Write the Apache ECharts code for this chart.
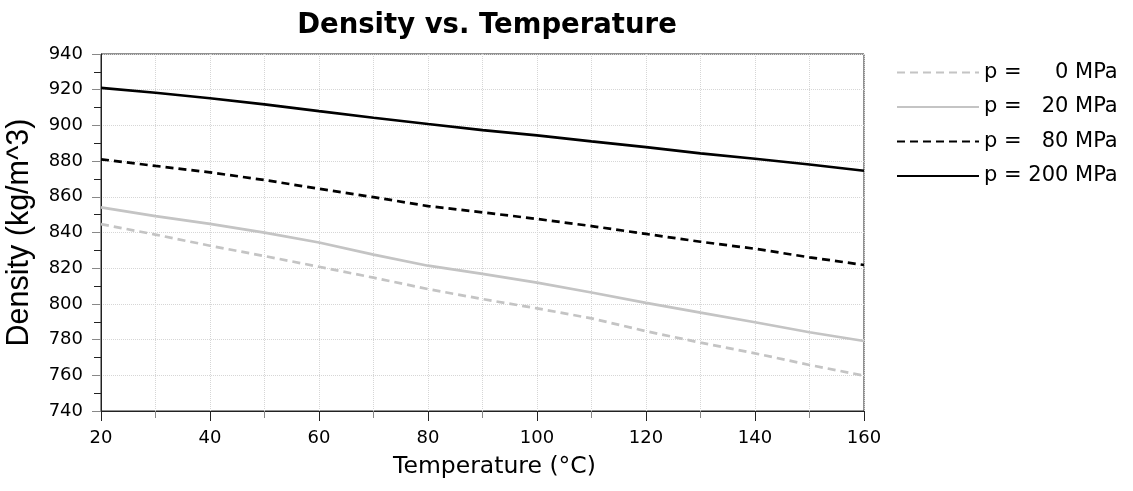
<!DOCTYPE html>
<html>
<head>
<meta charset="utf-8">
<title>Density vs. Temperature</title>
<script src="https://cdn.jsdelivr.net/npm/echarts@6/dist/echarts.min.js"></script>
<style>
  html, body { margin: 0; padding: 0; background: #fff; }
  #chart { width: 1133px; height: 491px; }
</style>
</head>
<body>
<div id="chart"></div>
<script>
// temperature (°C)
const temps = [20, 30, 40, 50, 60, 70, 80, 90, 100, 110, 120, 130, 140, 150, 160]
// density (kg/m^3) for each pressure
const p0 = [844.7, 838.8, 832.6, 826.8, 820.8, 814.7, 808.3, 802.7, 797.5, 791.9, 784.7, 778.3, 772.3, 765.8, 759.8]
const p20 = [854.1, 849.2, 844.8, 839.9, 834.4, 827.6, 821.4, 816.8, 811.9, 806.4, 800.6, 795.1, 789.7, 784.1, 779.2]
const p80 = [881.0, 877.3, 873.7, 869.4, 864.5, 859.8, 854.8, 851.3, 847.6, 843.6, 839.2, 834.8, 830.9, 826.1, 821.8]
const p200 = [921.0, 918.3, 915.2, 911.8, 908.0, 904.3, 900.8, 897.4, 894.4, 891.0, 887.8, 884.3, 881.3, 878.1, 874.6]
// digits right aligned: one digit = two spaces in DejaVu Sans
const seriesNames = ['p =     0 MPa', 'p =   20 MPa', 'p =   80 MPa', 'p = 200 MPa']

const font = 'DejaVu Sans, sans-serif'
const pair = arr => temps.map((t, i) => [t, arr[i]])

const line = (name, data, color, type) => ({
  type: 'line',
  name,
  data: pair(data),
  symbol: 'none',
  silent: true,
  lineStyle: { color, width: 2.7, type },
  itemStyle: { color }
})

const option = {
  animation: false,
  title: {
    text: 'Density vs. Temperature',
    left: 482,
    textAlign: 'center',
    top: 7,
    textStyle: { fontFamily: font, fontSize: 27.5, fontWeight: 'bold', color: '#000' }
  },
  legend: {
    orient: 'vertical',
    left: 891,
    top: 55,
    itemWidth: 82,
    itemHeight: 25,
    itemGap: 9.5,
    itemStyle: { opacity: 0 },
    textStyle: { fontFamily: font, fontSize: 21, lineHeight: 25, color: '#000' },
    data: seriesNames
  },
  grid: {
    left: 101,
    right: 269,
    top: 54,
    bottom: 80,
    outerBoundsMode: 'none',
    show: true,
    borderColor: '#222',
    borderWidth: 1
  },
  xAxis: {
    type: 'value',
    min: 20,
    max: 160,
    interval: 20,
    name: 'Temperature (°C)',
    nameLocation: 'middle',
    nameGap: 44,
    nameTextStyle: { fontFamily: font, fontSize: 23.5, color: '#000', padding: [0, 0, 0, 24] },
    axisLine: { lineStyle: { color: '#222', width: 1 } },
    axisTick: { length: 10, lineStyle: { color: '#222' } },
    minorTick: { show: true, splitNumber: 2, length: 7, lineStyle: { color: '#888' } },
    axisLabel: { fontFamily: font, fontSize: 18, color: '#000', margin: 18 },
    splitLine: { show: true, lineStyle: { color: '#d6d6d6', type: 'dotted' } },
    minorSplitLine: { show: true, lineStyle: { color: '#d6d6d6', type: 'dotted' } }
  },
  yAxis: {
    type: 'value',
    min: 740,
    max: 940,
    interval: 20,
    name: 'Density (kg/m^3)',
    nameLocation: 'middle',
    nameGap: 66,
    nameTextStyle: { fontFamily: 'Liberation Sans, Arial, sans-serif', fontSize: 30.5, color: '#000' },
    axisLine: { show: true, lineStyle: { color: '#222', width: 1 } },
    axisTick: { show: true, length: 9, lineStyle: { color: '#888' } },
    minorTick: { show: true, splitNumber: 2, length: 7, lineStyle: { color: '#222' } },
    axisLabel: { fontFamily: font, fontSize: 18, color: '#000', margin: 18 },
    splitLine: { show: true, lineStyle: { color: '#d6d6d6', type: 'dotted' } }
  },
  series: [
    line(seriesNames[0], p0, '#c4c4c4', [8, 5]),
    line(seriesNames[1], p20, '#c4c4c4', 'solid'),
    line(seriesNames[2], p80, '#000', [8, 5]),
    line(seriesNames[3], p200, '#000', 'solid')
  ]
}

const myChart = echarts.init(document.getElementById('chart'))
myChart.setOption(option)
</script>
</body>
</html>
